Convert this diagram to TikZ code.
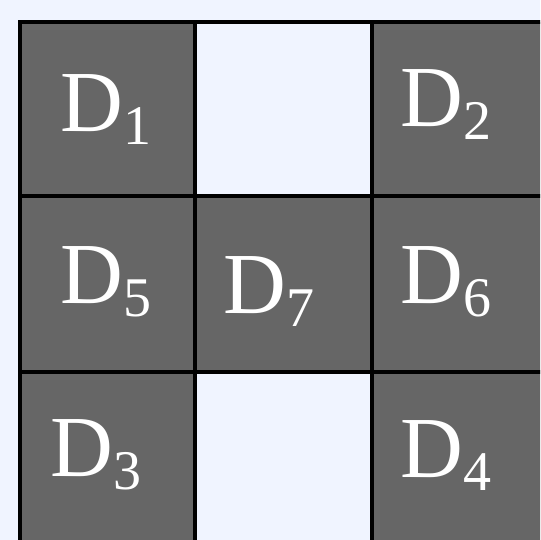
\documentclass[tikz,border=0pt]{standalone}
\usepackage{fontspec}
\setmainfont{Liberation Serif}
\definecolor{bgc}{HTML}{F0F4FF}
\definecolor{cellc}{HTML}{666666}
\newcommand{\dlab}[1]{{\fontsize{87}{87}\selectfont D}\raisebox{-13pt}{\fontsize{56}{56}\selectfont #1}}
\tikzset{
  lab/.style={anchor=base west, inner sep=0pt, text=white},
  gridline/.style={line width=4pt, black},
}
\begin{document}
\begin{tikzpicture}[x=1pt,y=-1pt]
\useasboundingbox (0,0) rectangle (540,540);
\fill[bgc] (0,0) rectangle (540,540);
\begin{scope}
\clip (0,0) rectangle (540,540);
% dark cells
\fill[cellc] (20,22) rectangle (195,196);
\fill[cellc] (372,22) rectangle (560,196);
\fill[cellc] (20,196) rectangle (560,372);
\fill[cellc] (20,372) rectangle (195,560);
\fill[cellc] (372,372) rectangle (560,560);
% grid lines
\draw[gridline] (20,560) -- (20,22) -- (560,22);
\draw[gridline] (195,22) -- (195,560);
\draw[gridline] (372,22) -- (372,560);
\draw[gridline] (20,196) -- (560,196);
\draw[gridline] (20,372) -- (560,372);
\end{scope}
% labels
\node[lab] (d1) at (60,132) {\dlab{1}};
\node[lab] (d2) at (400,127) {\dlab{2}};
\node[lab] (d5) at (60,303) {\dlab{5}};
\node[lab] (d7) at (223,313) {\dlab{7}};
\node[lab] (d6) at (400,303) {\dlab{6}};
\node[lab] (d3) at (50,476) {\dlab{3}};
\node[lab] (d4) at (400,477) {\dlab{4}};
\end{tikzpicture}
\end{document}
